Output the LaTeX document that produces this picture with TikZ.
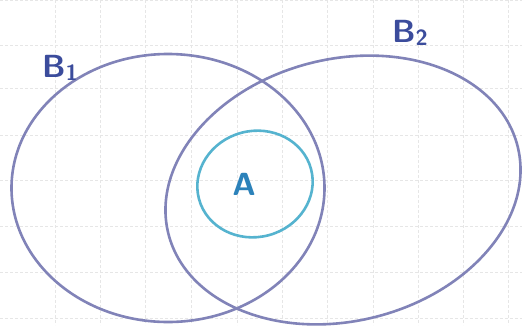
\documentclass[tikz,border=0pt]{standalone}
\usetikzlibrary{shapes.geometric}
\definecolor{setline}{HTML}{8183B8}
\definecolor{aline}{HTML}{55B3CF}
\definecolor{blabel}{HTML}{3B4C9C}
\definecolor{alabel}{HTML}{2C82BA}
\definecolor{gridc}{HTML}{E6E6E6}
\tikzset{
  setshape/.style={ellipse, draw=setline, line width=2.6pt, inner sep=0pt},
  ashape/.style={ellipse, draw=aline, line width=2.6pt, inner sep=0pt},
  lab/.style={font=\sffamily\bfseries\fontsize{32}{34}\selectfont, inner sep=0pt}
}
\begin{document}
\begin{tikzpicture}[x=1pt,y=-1pt]
\useasboundingbox (0,0) rectangle (522,325);
\fill[white] (0,0) rectangle (522,325);
% faint grid
\foreach \gx in {55,100,145,191,237,282,327,373,418,463,508}
  \draw[gridc, densely dashed, line width=0.5pt] (\gx,0) -- (\gx,325);
\foreach \gy in {0,45,88,135,180,226,272,318}
  \draw[gridc, densely dashed, line width=0.5pt] (0,\gy) -- (522,\gy);
% sets
\node[setshape, minimum width=313pt, minimum height=268pt] (b1) at (168,188) {};
\node[setshape, minimum width=360pt, minimum height=262pt, rotate=14] (b2) at (343,190) {};
\node[ashape, minimum width=116pt, minimum height=106pt, rotate=15] (a) at (255,184) {};
% labels
\node[lab, text=blabel] (lb1) at (60,68) {B\raisebox{-3pt}{\fontsize{22}{24}\selectfont 1}};
\node[lab, text=blabel] (lb2) at (410,33) {B\raisebox{-3pt}{\fontsize{22}{24}\selectfont 2}};
\node[lab, text=alabel] (la) at (244,184) {A};
\end{tikzpicture}
\end{document}
